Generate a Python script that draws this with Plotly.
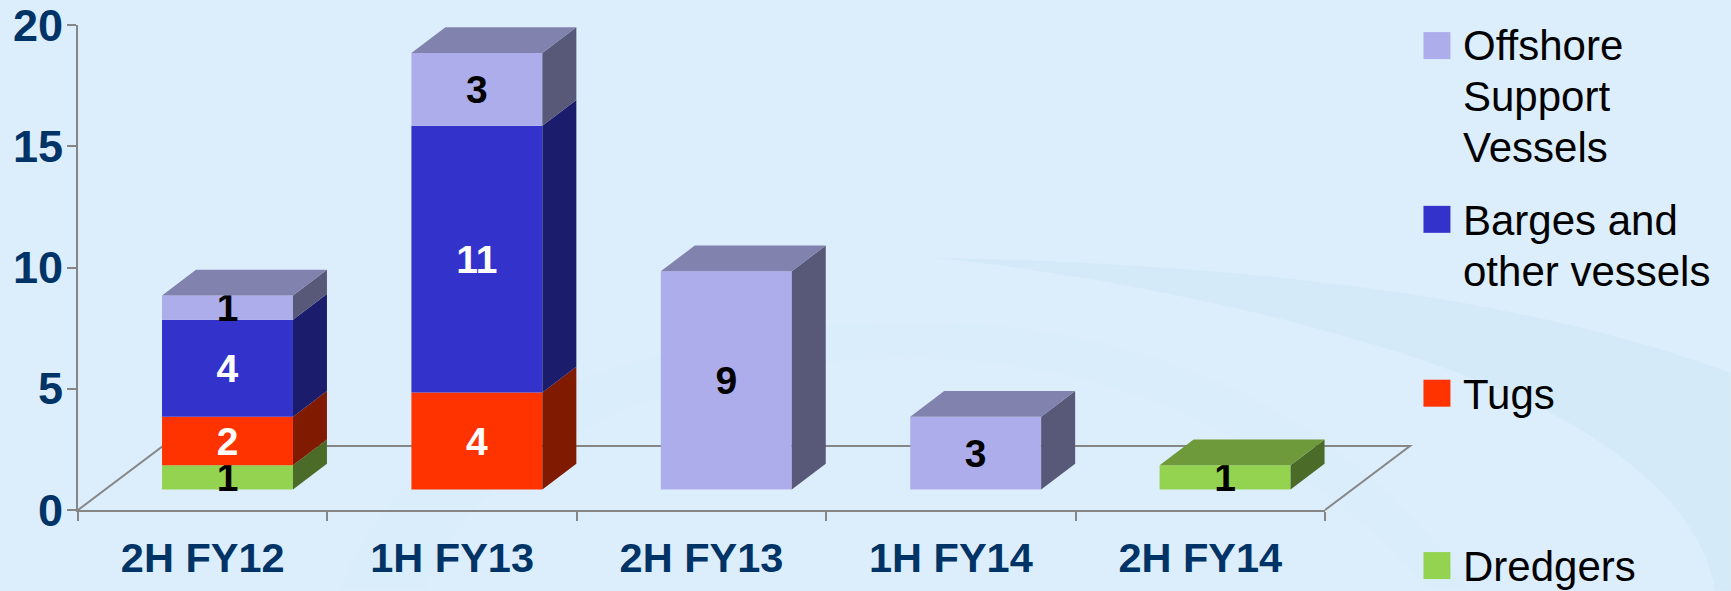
import plotly.graph_objects as go

categories = ["2H FY12", "1H FY13", "2H FY13", "1H FY14", "2H FY14"]
dredgers = [1, None, None, None, 1]
tugs = [2, 4, None, None, None]
barges = [4, 11, None, None, None]
offshore = [1, 3, 9, 3, None]
y_ticks = [0, 5, 10, 15, 20]

series = [
    ("Dredgers", dredgers, "#93D350", "#4B6B28", "#6F9A3B", "#000000"),
    ("Tugs", tugs, "#FF3300", "#801A00", "#801A00", "#FFFFFF"),
    ("Barges and other vessels", barges, "#3333CC", "#1C1C6C", "#1C1C6C", "#FFFFFF"),
    ("Offshore Support Vessels", offshore, "#ADADEB", "#585878", "#8282AE", "#000000"),
]
legend_rows = [
    ("#ADADEB", 45.6, [("Offshore", 46), ("Support", 97), ("Vessels", 147.5)]),
    ("#3333CC", 219.5, [("Barges and", 220.5), ("other vessels", 271.5)]),
    ("#FF3300", 393.5, [("Tugs", 395)]),
    ("#93D350", 566, [("Dredgers", 567)]),
]

W, H = 1731, 591
L, R, T, B = 78.0, 1325.5, 25.0, 510.4
PX_X = (R - L) / 5
PX_Y = (B - T) / 20
NAVY = "#003366"
GRAY = "#868686"
BG = "#DCEEFB"


def px(x):
    return (x - L) / (R - L)


def py(y):
    return (B - y) / (B - T)


def pth(points, close=True):
    return " ".join(
        f"{c}{px(v[0]):.5f},{py(v[1]):.5f}" if len(v) == 2 else
        f"{c}{px(v[0]):.5f},{py(v[1]):.5f} {px(v[2]):.5f},{py(v[3]):.5f} {px(v[4]):.5f},{py(v[5]):.5f}"
        for c, v in points
    ) + (" Z" if close else "")


floor_base = 20.4 / PX_Y
bar_w = 131 / PX_X
bar_off = 24.8 / PX_X
dep_x = 34 / PX_X
dep_y = 26 / PX_Y
floor_dx = 85 / PX_X
floor_dy = 64 / PX_Y

fig = go.Figure()
xs = [i + bar_off for i in range(len(categories))]
stack = [floor_base] * len(categories)
tops = []
sides = []
for idx, (name, vals, front, side, top, tcol) in enumerate(series):
    bases = list(stack)
    fig.add_trace(go.Bar(
        x=xs, y=vals, base=bases, width=bar_w, name=name,
        marker=dict(color=front, line=dict(width=0)),
        text=[str(v) if v else "" for v in vals],
        textposition="inside", insidetextanchor="middle", textangle=0,
        constraintext="none", cliponaxis=False,
        textfont=dict(family="Liberation Sans", size=39, color=tcol, weight="bold"),
        hoverinfo="skip", showlegend=False,
    ))
    sx, sy = [], []
    for i, v in enumerate(vals):
        if not v:
            continue
        x1 = xs[i] + bar_w / 2
        b, t = bases[i], bases[i] + v
        sx += [x1, x1 + dep_x, x1 + dep_x, x1, x1, None]
        sy += [b, b + dep_y, t + dep_y, t, b, None]
        stack[i] = t
    sides.append((name, sx, sy, side))
    tx, ty = [], []
    for i, v in enumerate(vals):
        if not v:
            continue
        # the top face belongs to the highest segment of each stack
        if any(s[1][i] for s in series[idx + 1:]):
            continue
        x0, x1 = xs[i] - bar_w / 2, xs[i] + bar_w / 2
        t = stack[i]
        tx += [x0, x0 + dep_x, x1 + dep_x, x1, x0, None]
        ty += [t, t + dep_y, t + dep_y, t, t, None]
    if tx:
        tops.append((name, tx, ty, top))

for name, sx, sy, color in sides + tops:
    fig.add_trace(go.Scatter(
        x=sx, y=sy, mode="none", fill="toself", fillcolor=color,
        hoverinfo="skip", showlegend=False, name=name + " face", cliponaxis=False,
    ))

shapes = [
    # faint background swooshes
    dict(type="path", xref="paper", yref="paper", layer="below", line=dict(width=0),
         fillcolor="#CDE7F6", opacity=0.55,
         path=pth([("M", (935, 258)), ("C", (1150, 262, 1480, 280, 1731, 373)), ("L", (1731, 591)), ("L", (1716, 591)),
                   ("C", (1700, 500, 1600, 420, 1430, 363)), ("C", (1280, 312, 1100, 275, 935, 258))])),
    dict(type="path", xref="paper", yref="paper", layer="below", line=dict(width=0),
         fillcolor="#D6EAFA", opacity=0.35,
         path=pth([("M", (340, 591)), ("C", (400, 420, 640, 330, 900, 322)), ("C", (1150, 318, 1360, 420, 1470, 591)),
                   ("L", (1430, 591)), ("C", (1300, 440, 1100, 355, 900, 358)), ("C", (650, 365, 470, 460, 425, 591))])),
    # floor of the chart, drawn in the plot's own fractions so it can pass the axis end
    dict(type="path", xref="paper", yref="paper", layer="below", line=dict(color=GRAY, width=2),
         path=f"M0,0 L{floor_dx / 5},{floor_dy / 20} L{1 + floor_dx / 5},{floor_dy / 20} L1,0"),
]

annotations = []
for color, cy, lines in legend_rows:
    shapes.append(dict(type="rect", xref="paper", yref="paper", line=dict(width=0), fillcolor=color,
                       x0=px(1424), x1=px(1451), y0=py(cy - 13.5), y1=py(cy + 13.5)))
    for text, ly in lines:
        annotations.append(dict(
            xref="paper", yref="paper", x=px(1464), y=py(ly), xanchor="left", yanchor="middle",
            text=text, showarrow=False, xshift=-2,
            font=dict(family="Liberation Sans", size=42, color="#000000"),
        ))
# y tick labels as text beside the axis: the top one would otherwise be dropped at the page edge
for v in y_ticks:
    annotations.append(dict(
        xref="paper", yref="y", x=px(65), y=v, xanchor="right", yanchor="middle",
        text=str(v), showarrow=False,
        font=dict(family="Liberation Sans", size=45, color=NAVY, weight="bold"),
    ))

fig.update_layout(
    width=W, height=H,
    margin=dict(l=L, r=W - R, t=T, b=H - B, pad=0, autoexpand=False),
    paper_bgcolor=BG, plot_bgcolor="rgba(0,0,0,0)",
    barmode="overlay", showlegend=False,
    shapes=shapes, annotations=annotations,
    xaxis=dict(
        range=[-0.5, 4.5], showgrid=False, zeroline=False,
        tickmode="array", tickvals=list(range(5)), ticktext=categories, ticks="",
        ticklabelstandoff=10,
        tickfont=dict(family="Liberation Sans", size=41.5, color=NAVY, weight="bold"),
        showline=True, linecolor=GRAY, linewidth=2,
        minor=dict(tickmode="array", tickvals=[i - 0.5 for i in range(6)], ticks="outside",
                   ticklen=9, tickwidth=2, tickcolor=GRAY, showgrid=False),
    ),
    yaxis=dict(
        range=[0, 20], showgrid=False, zeroline=False,
        tickmode="array", tickvals=y_ticks, ticks="outside", ticklen=9, tickwidth=2, tickcolor=GRAY,
        showticklabels=False,
        showline=True, linecolor=GRAY, linewidth=2,
    ),
)
fig.write_html(
    "out.html",
    config={"displayModeBar": False},
    post_script="document.documentElement.style.margin='0';document.body.style.margin='0';document.body.style.background='#DCEEFB';",
)
